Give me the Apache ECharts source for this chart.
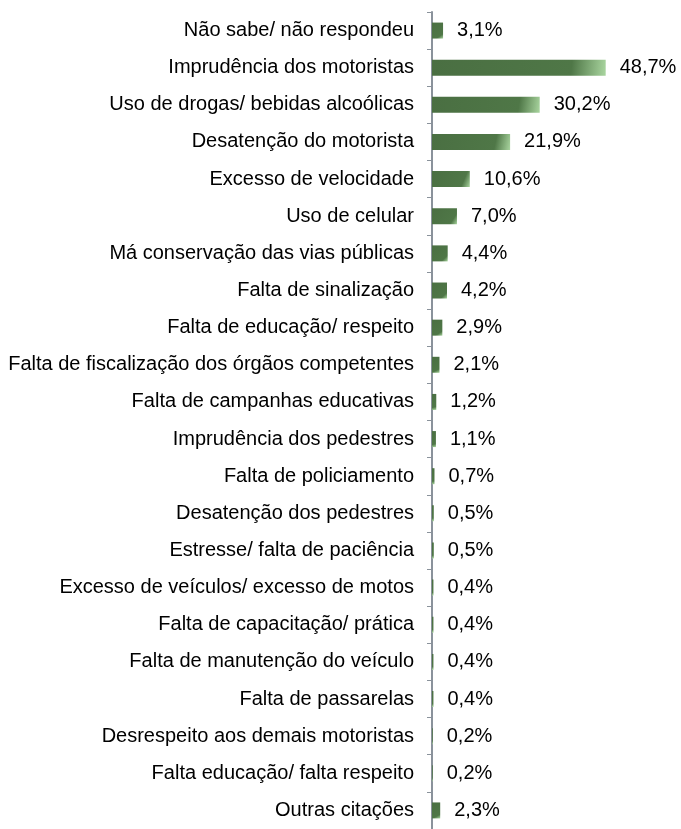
<!DOCTYPE html>
<html>
<head>
<meta charset="utf-8">
<script src="https://cdn.jsdelivr.net/npm/echarts@6/dist/echarts.min.js"></script>
<style>
  html, body { margin: 0; padding: 0; background: #fff; }
  #chart { width: 681px; height: 829px; }
</style>
</head>
<body>
<div id="chart"></div>
<script>
// categorias (de cima para baixo)
var categories = [
  "Não sabe/ não respondeu",
  "Imprudência dos motoristas",
  "Uso de drogas/ bebidas alcoólicas",
  "Desatenção do motorista",
  "Excesso de velocidade",
  "Uso de celular",
  "Má conservação das vias públicas",
  "Falta de sinalização",
  "Falta de educação/ respeito",
  "Falta de fiscalização dos órgãos competentes",
  "Falta de campanhas educativas",
  "Imprudência dos pedestres",
  "Falta de policiamento",
  "Desatenção dos pedestres",
  "Estresse/ falta de paciência",
  "Excesso de veículos/ excesso de motos",
  "Falta de capacitação/ prática",
  "Falta de manutenção do veículo",
  "Falta de passarelas",
  "Desrespeito aos demais motoristas",
  "Falta educação/ falta respeito",
  "Outras citações"
];

// percentuais
var values = [3.1, 48.7, 30.2, 21.9, 10.6, 7.0, 4.4, 4.2, 2.9, 2.1, 1.2, 1.1, 0.7, 0.5, 0.5, 0.4, 0.4, 0.4, 0.4, 0.2, 0.2, 2.3];

var chart = echarts.init(document.getElementById("chart"));

var option = {
  backgroundColor: "#fff",
  animation: false,
  textStyle: { fontFamily: "Liberation Sans, Arial, sans-serif" },
  grid: {
    top: 12,
    bottom: -1,
    left: 432,
    right: 35
  },
  xAxis: {
    type: "value",
    min: 0,
    max: 60,
    show: false
  },
  yAxis: {
    type: "category",
    inverse: true,
    data: categories,
    axisLine: {
      show: true,
      lineStyle: { color: "#8a929b", width: 2 }
    },
    axisTick: {
      show: true,
      length: 5,
      lineStyle: { color: "#8a929b", width: 1 }
    },
    axisLabel: {
      color: "#000",
      fontSize: 20,
      margin: 18
    }
  },
  series: [
    {
      type: "bar",
      data: values,
      barWidth: 16,
      itemStyle: {
        // degradê verde, mais claro no canto inferior direito
        color: new echarts.graphic.LinearGradient(0, 0, 1, 1, [
          { offset: 0, color: "#4a6f42" },
          { offset: 0.8, color: "#4f7747" },
          { offset: 1, color: "#a9d59f" }
        ])
      },
      label: {
        show: true,
        position: "right",
        distance: 14,
        color: "#000",
        fontSize: 20,
        formatter: function (p) {
          return p.value.toFixed(1).replace(".", ",") + "%";
        }
      }
    }
  ]
};

chart.setOption(option);
</script>
</body>
</html>
